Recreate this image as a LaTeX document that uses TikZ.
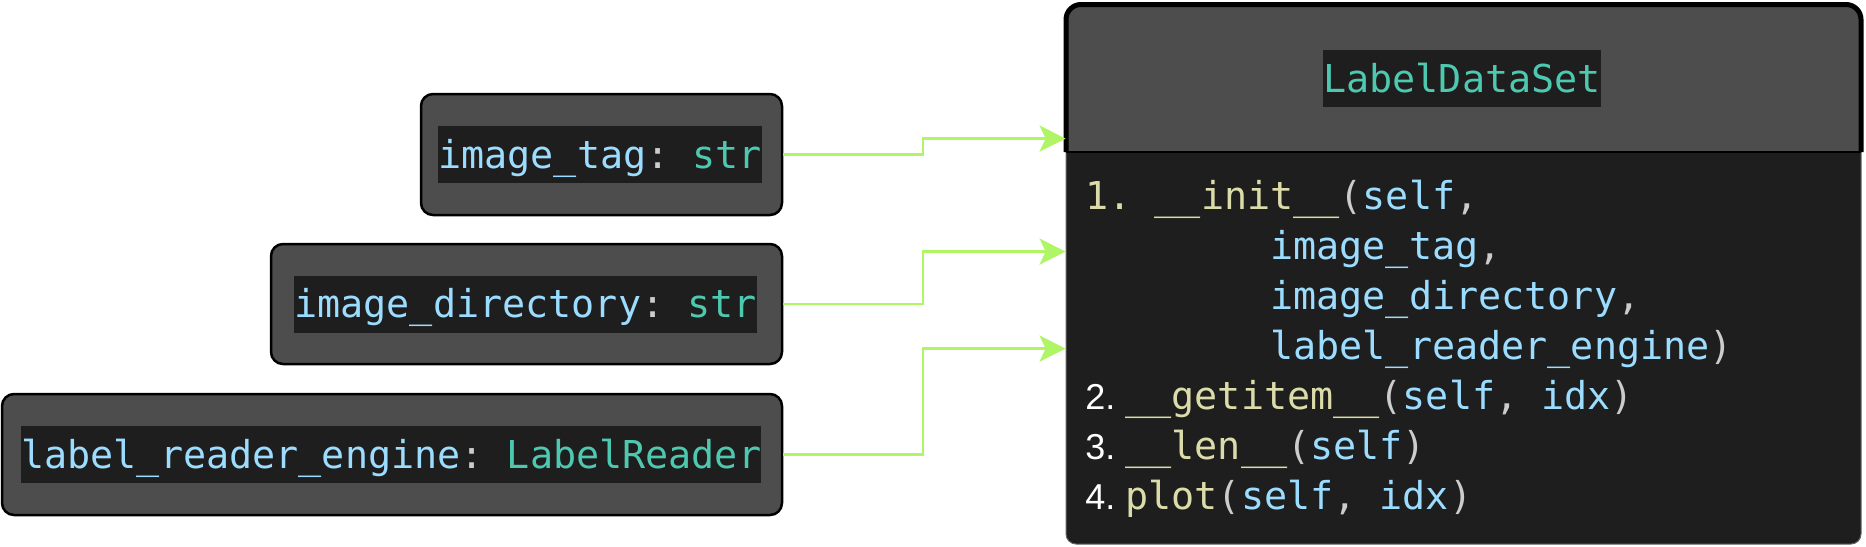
\documentclass[tikz,border=0pt]{standalone}
\usepackage{fontspec}
\usetikzlibrary{arrows.meta,calc}
\newfontfamily\monof{DejaVu Sans Mono}
\newfontfamily\numf{Liberation Sans}
\definecolor{boxgray}{HTML}{4D4D4D}
\definecolor{codebg}{HTML}{1E1E1E}
\definecolor{pblue}{HTML}{9CDCFE}
\definecolor{fyel}{HTML}{DCDCAA}
\definecolor{tteal}{HTML}{4EC9B0}
\definecolor{punc}{HTML}{CCCCCC}
\definecolor{arrgreen}{HTML}{B0F566}
\newcommand{\codefont}{\monof\fontsize{19.2pt}{24pt}\selectfont}
\newcommand{\numfont}{\numf\fontsize{18pt}{22pt}\selectfont}
\newcommand{\pv}[1]{\textcolor{pblue}{#1}}
\newcommand{\fv}[1]{\textcolor{fyel}{#1}}
\newcommand{\tv}[1]{\textcolor{tteal}{#1}}
\newcommand{\pu}[1]{\textcolor{punc}{#1}}
\newcommand{\nv}[1]{{\numfont\textcolor{white}{#1}}}
\tikzset{
  inbox/.style={draw=black, line width=1.25pt, fill=boxgray, rounded corners=6pt, inner sep=0pt},
  codebox/.style={fill=codebg, inner xsep=0pt, inner ysep=0pt, text height=21pt, text depth=7.5pt, font=\codefont},
  codeline/.style={anchor=base west, inner sep=0pt, font=\codefont},
  arr/.style={draw=arrgreen, line width=1.35pt, -{Stealth[length=13pt,width=13pt,inset=3pt]}},
}
\begin{document}
\begin{tikzpicture}[x=0.5pt,y=-0.5pt]
\useasboundingbox (0,0) rectangle (1866,546);
% class container
\node[minimum width=397.5pt, minimum height=269.75pt, inner sep=0pt] (cls) at (1463.5,274.25) {};
\path[fill=codebg, draw=black!60, line width=0.5pt, rounded corners=5pt] (1066,152) -- (1066,544) -- (1861,544) -- (1861,152);
\path[fill=boxgray, draw=black, line width=2.5pt, rounded corners=7.5pt] (1066,152) -- (1066,4.5) -- (1861,4.5) -- (1861,152);
\draw[black, line width=1pt] (1066,152) -- (1861,152);
\node[codebox, text=tteal, anchor=base] (title) at (1462,92) {LabelDataSet};
% methods
\node[codeline] (l1) at (1085,209) {\fv{1.~\_\_init\_\_}\pu{(}\pv{self}\pu{,}};
\node[codeline] (l2) at (1085,259) {\phantom{XXXXXXXX}\pv{image\_tag}\pu{,}};
\node[codeline] (l3) at (1085,309) {\phantom{XXXXXXXX}\pv{image\_directory}\pu{,}};
\node[codeline] (l4) at (1085,359) {\phantom{XXXXXXXX}\pv{label\_reader\_engine}\pu{)}};
\node[codeline] (l5) at (1085,409) {\nv{2.~}\fv{\_\_getitem\_\_}\pu{(}\pv{self}\pu{,}~\pv{idx}\pu{)}};
\node[codeline] (l6) at (1085,459) {\nv{3.~}\fv{\_\_len\_\_}\pu{(}\pv{self}\pu{)}};
\node[codeline] (l7) at (1085,509) {\nv{4.~}\fv{plot}\pu{(}\pv{self}\pu{,}~\pv{idx}\pu{)}};
% input boxes
\node[inbox, minimum width=180.5pt, minimum height=60.5pt] (b1) at (601.5,154.5) {};
\node[inbox, minimum width=255.5pt, minimum height=60pt] (b2) at (526.5,304) {};
\node[inbox, minimum width=390pt, minimum height=60.5pt] (b3) at (392,454.5) {};
\node[codebox, anchor=base west] (t1) at (438,168) {\pv{image\_tag}\pu{:}~\tv{str}};
\node[codebox, anchor=base west] (t2) at (294,317.5) {\pv{image\_directory}\pu{:}~\tv{str}};
\node[codebox, anchor=base west] (t3) at (21,468) {\pv{label\_reader\_engine}\pu{:}~\tv{LabelReader}};
% connectors
\coordinate (kx) at (923,0);
\draw[arr] (b1.east) -- (b1.east -| kx) |- ($(cls.north west)+(0,134.5)$);
\draw[arr] (b2.east) -- (b2.east -| kx) |- ($(cls.north west)+(0,247.5)$);
\draw[arr] (b3.east) -- (b3.east -| kx) |- ($(cls.north west)+(0,344.5)$);
\end{tikzpicture}
\end{document}
